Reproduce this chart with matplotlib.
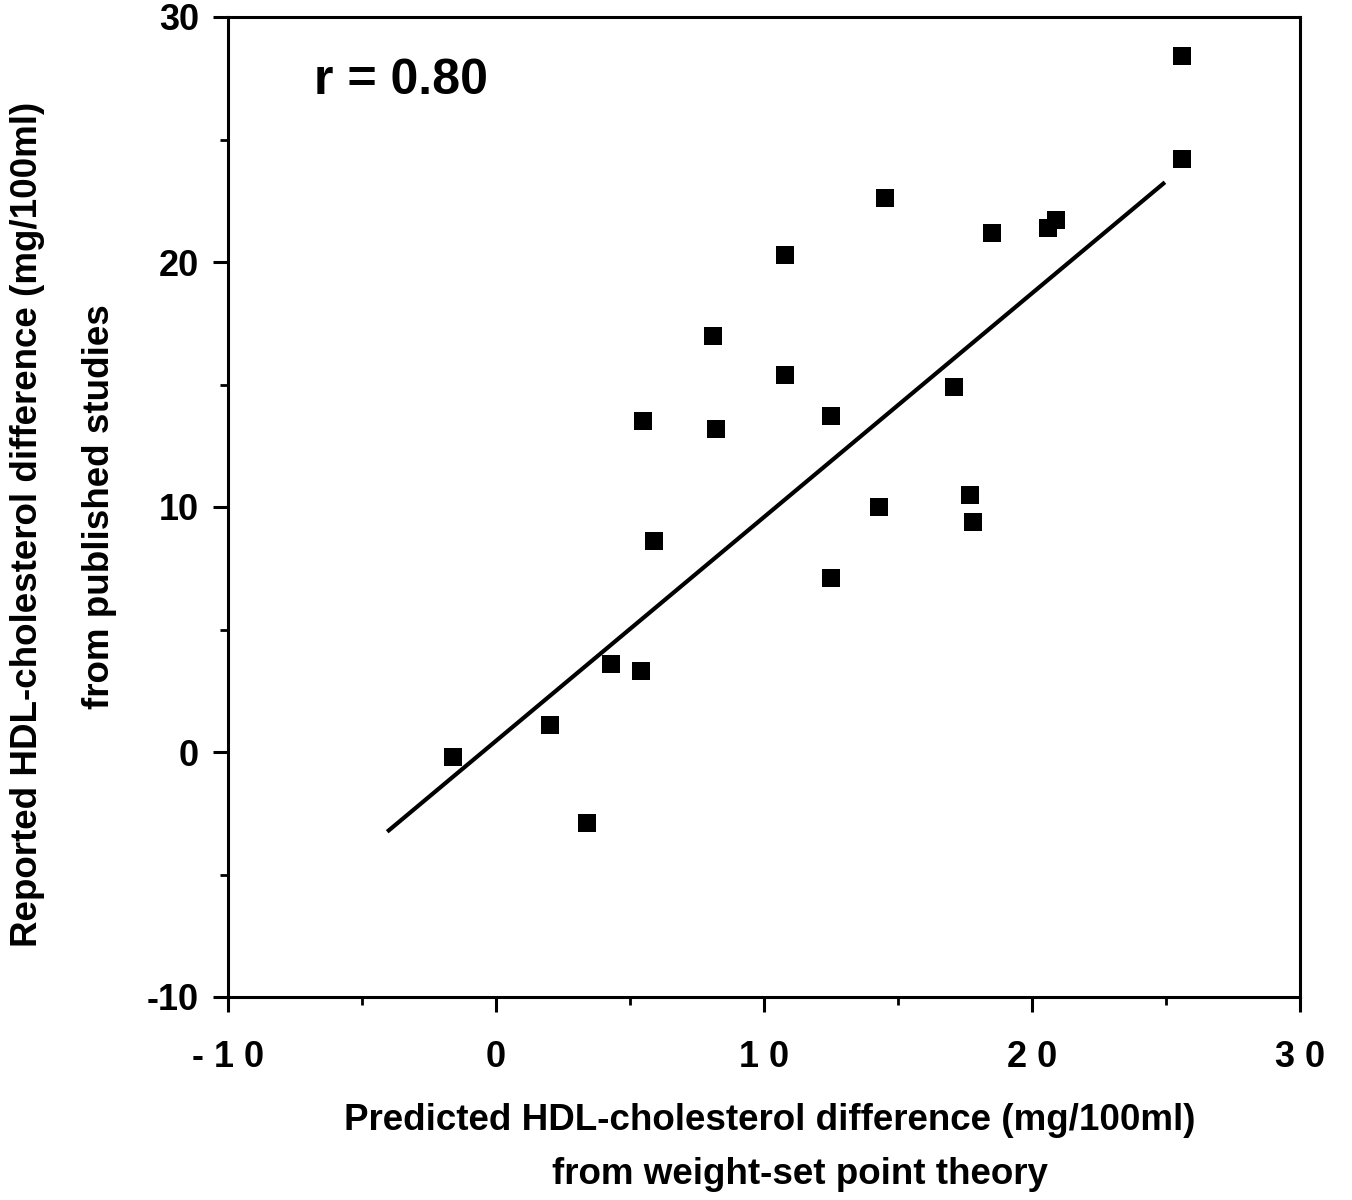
import matplotlib
matplotlib.use('Agg')
import matplotlib.pyplot as plt
from matplotlib.ticker import MultipleLocator

plt.rcParams['font.family'] = ['Liberation Sans', 'DejaVu Sans']

# 预测值 / 报告值 (mg/100ml)
predicted = [-1.6, 2.0, 3.4, 4.3, 5.4, 5.5, 5.9, 8.1, 8.2, 10.8, 10.8, 12.5,
             12.5, 14.5, 14.3, 18.5, 17.1, 17.7, 17.8, 20.6, 20.9, 25.6, 25.6]
reported = [-0.2, 1.1, -2.9, 3.6, 3.3, 13.5, 8.6, 17.0, 13.2, 20.3, 15.4, 13.7,
            7.1, 22.6, 10.0, 21.2, 14.9, 10.5, 9.4, 21.4, 21.7, 28.4, 24.2]

# 回归线端点
fit_x = [-4.0, 24.9]
fit_y = [-3.2, 23.2]

x_ticks = [-10, 0, 10, 20, 30]
x_tick_labels = ['- 1 0', '0', '1 0', '2 0', '3 0']
y_ticks = [-10, 0, 10, 20, 30]
y_tick_labels = ['-10', '0', '10', '20', '30']

fig = plt.figure(figsize=(13.52, 12), dpi=100)
ax = fig.add_axes([228 / 1352, 1 - 997 / 1200, 1072 / 1352, 980 / 1200])

ax.plot(predicted, reported, 's', color='black', markersize=13.5, markeredgewidth=0)
ax.plot(fit_x, fit_y, '-', color='black', linewidth=3)

ax.set_xlim(-10, 30)
ax.set_ylim(-10, 30)
ax.set_xticks(x_ticks)
ax.set_xticklabels(x_tick_labels)
ax.set_yticks(y_ticks)
ax.set_yticklabels(y_tick_labels)
ax.xaxis.set_minor_locator(MultipleLocator(5))
ax.yaxis.set_minor_locator(MultipleLocator(5))

for s in ax.spines.values():
    s.set_linewidth(2.2)

ax.tick_params(which='major', direction='out', length=11, width=2.2,
               labelsize=26)
ax.tick_params(which='minor', direction='out', length=6, width=2)
ax.tick_params(axis='x', which='major', pad=20)
ax.tick_params(axis='y', which='major', pad=10)
for lab in ax.get_xticklabels() + ax.get_yticklabels():
    lab.set_fontweight('bold')

ax.text(0.08, 0.935, 'r = 0.80', transform=ax.transAxes, fontsize=36,
        fontweight='bold', ha='left', va='center')

fig.text(770 / 1352, 1 - 1120 / 1200, 'Predicted HDL-cholesterol difference (mg/100ml)',
         ha='center', va='center', fontsize=26.5, fontweight='bold')
fig.text(800 / 1352, 1 - 1175 / 1200, 'from weight-set point theory',
         ha='center', va='center', fontsize=26.5, fontweight='bold')
fig.text(28 / 1352, 1 - 524 / 1200, 'Reported HDL-cholesterol difference (mg/100ml)',
         ha='center', va='center', rotation=90, fontsize=26.5, fontweight='bold')
fig.text(100 / 1352, 1 - 507 / 1200, 'from published studies',
         ha='center', va='center', rotation=90, fontsize=26.5, fontweight='bold')

plt.savefig('out.png', dpi=100)
